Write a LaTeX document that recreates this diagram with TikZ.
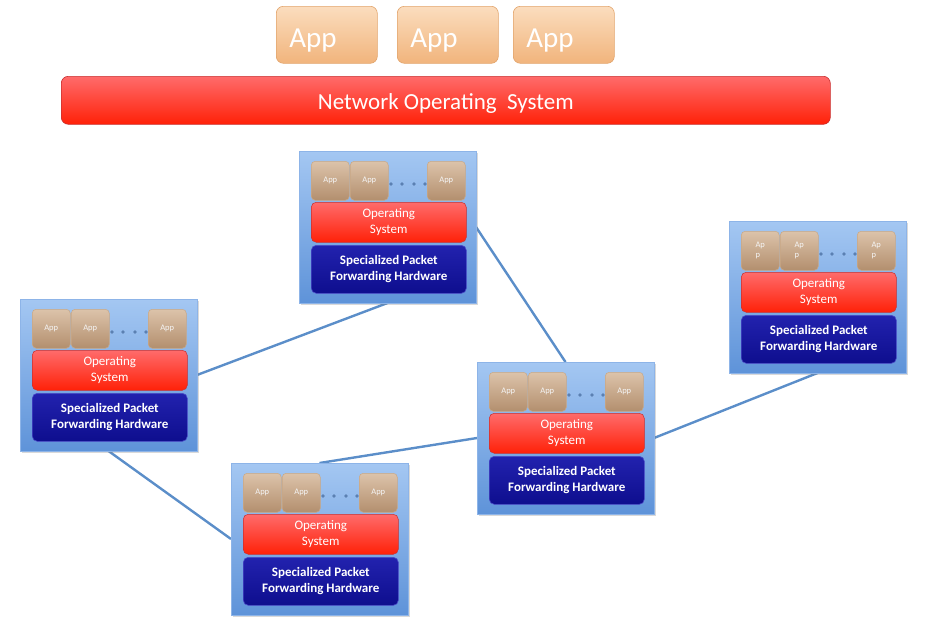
\documentclass[tikz,border=0pt]{standalone}
\usepackage{fontspec}
\setmainfont{Carlito}
\usetikzlibrary{positioning,shadows,backgrounds}

\definecolor{linkblue}{HTML}{5B8EC9}
\definecolor{swtop}{HTML}{A4C7F2}
\definecolor{swbot}{HTML}{5E93D9}
\definecolor{swedge}{HTML}{8DB4E8}
\definecolor{apptop}{HTML}{FBDDBE}
\definecolor{appbot}{HTML}{F1B47C}
\definecolor{appedge}{HTML}{E2A56D}
\definecolor{smalltop}{HTML}{DCC3AA}
\definecolor{smallbot}{HTML}{B38F6E}
\definecolor{smalledge}{HTML}{C9A886}
\definecolor{ostop}{HTML}{FF6B6B}
\definecolor{osbot}{HTML}{FF2108}
\definecolor{osedge}{HTML}{C83030}
\definecolor{hwtop}{HTML}{2222AE}
\definecolor{hwbot}{HTML}{0E0E8E}
\definecolor{hwedge}{HTML}{4A4AC8}
\definecolor{dotblue}{HTML}{5B80B2}

\tikzset{
  bigapp/.style={draw=appedge, line width=0.6pt, rounded corners=7pt,
    top color=apptop, bottom color=appbot, minimum width=101pt,
    minimum height=57pt, inner xsep=13pt, text width=75pt, align=left,
    text height=27pt, text depth=1pt,
    text=white, font=\fontsize{29}{32}\selectfont},
  nosbar/.style={draw=osedge, line width=0.6pt, rounded corners=7pt,
    top color=ostop, bottom color=osbot, minimum width=769pt,
    minimum height=48pt, text height=20pt, text depth=2pt,
    text=white, font=\fontsize{23}{26}\selectfont},
  switchbox/.style={draw=swedge, line width=1pt, top color=swtop,
    bottom color=swbot, minimum width=177pt, minimum height=152pt,
    inner sep=0pt, outer sep=0pt,
    drop shadow={opacity=0.3, shadow xshift=2pt, shadow yshift=-2pt}},
  swapp/.style={draw=smalledge, line width=0.5pt, rounded corners=4pt,
    top color=smalltop, bottom color=smallbot, minimum width=38pt,
    minimum height=39pt, inner sep=0pt, align=left,
    text=white!92!gray, font=\fontsize{8.5}{10}\selectfont},
  osbar/.style={draw=osedge, line width=0.5pt, rounded corners=5pt,
    top color=ostop, bottom color=osbot, minimum width=155pt,
    minimum height=40pt, inner sep=0pt, align=center, text=white,
    font=\fontsize{13}{16.5}\selectfont},
  hwbar/.style={draw=hwedge, line width=0.6pt, rounded corners=5pt,
    top color=hwtop, bottom color=hwbot, minimum width=155pt,
    minimum height=48pt, inner sep=0pt, align=center, text=white,
    font=\fontsize{13}{16}\selectfont\bfseries},
  link/.style={draw=linkblue, line width=2.4pt}
}

% one forwarding element: name, x, y, app label
\newcommand{\swnode}[4]{%
  \node[switchbox, anchor=north west] (#1) at (#2,#3) {};
  \node[swapp, anchor=north west] (#1a1) at ([shift={(12,10)}]#1.north west) {#4};
  \node[swapp, anchor=north west] (#1a2) at ([shift={(51,10)}]#1.north west) {#4};
  \node[swapp, anchor=north west] (#1a3) at ([shift={(128,10)}]#1.north west) {#4};
  \foreach \dx in {92,103,115,126}
    \fill[dotblue] ([shift={(\dx,33)}]#1.north west) circle (1.8pt);
  \node[osbar, anchor=north west] (#1os) at ([shift={(12,51)}]#1.north west) {Operating\\System};
  \node[hwbar, anchor=north west] (#1hw) at ([shift={(12,94)}]#1.north west) {Specialized Packet\\Forwarding Hardware};
}

\begin{document}
\begin{tikzpicture}[x=1pt,y=-1pt]
  \useasboundingbox (0,0) rectangle (928,627);

  % controller layer
  \node[bigapp, anchor=north west] (app1) at (276,6) {App};
  \node[bigapp, anchor=north west] (app2) at (397,6) {App};
  \node[bigapp, anchor=north west] (app3) at (513,6) {App};
  \node[nosbar, anchor=north west] (nos) at (61,76) {Network Operating\ \ System};

  % switches
  \swnode{sw1}{299}{151}{App}
  \swnode{sw2}{20}{299}{App}
  \swnode{sw3}{231}{463}{App}
  \swnode{sw4}{477}{362}{App}
  \swnode{sw5}{729}{221}{Ap\\p}

  % links
  \begin{scope}[on background layer]
    \draw[link] (sw1.south) -- (sw2.east);
    \draw[link] (sw1.east) -- (sw4.north);
    \draw[link] (sw2.south) -- (sw3.west);
    \draw[link] (sw3.north) -- (sw4.west);
    \draw[link] (sw4.east) -- (sw5.south);
  \end{scope}
\end{tikzpicture}
\end{document}
